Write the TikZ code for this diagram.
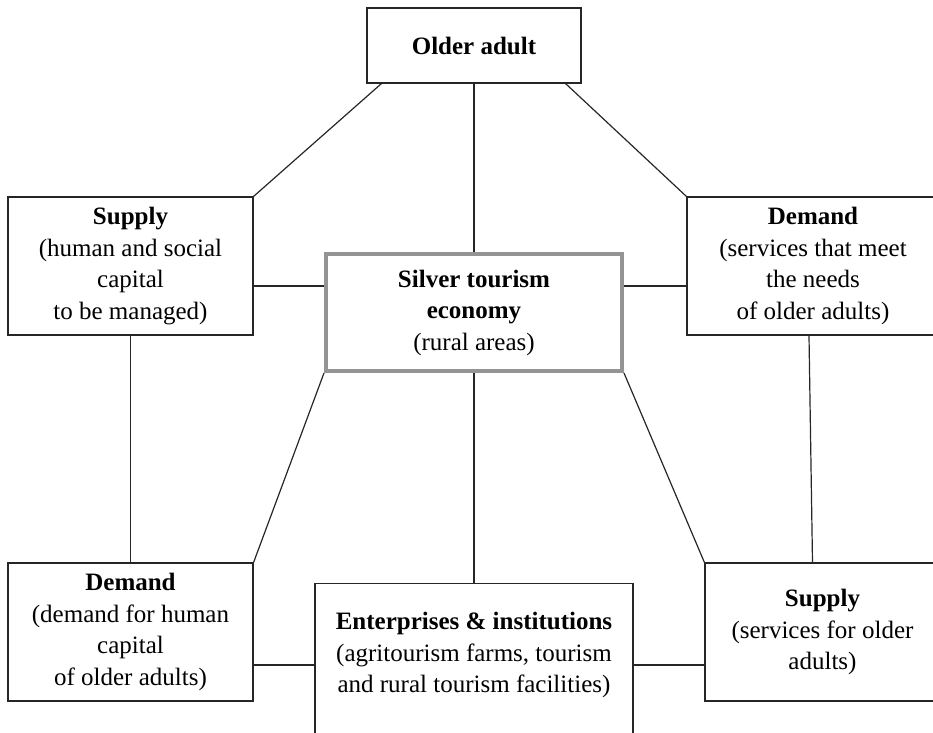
\documentclass[tikz,border=0pt]{standalone}
\usepackage{fontspec}
\setmainfont{Liberation Serif}
\usetikzlibrary{positioning}

\begin{document}
\begin{tikzpicture}[
  x=0.5pt, y=-0.5pt,
  font=\fontsize{12.5}{15.75}\selectfont,
  line width=0.6pt,
  box/.style={draw=black!85, align=center, inner sep=3pt,
              minimum height=69pt},
  hub/.style={draw=black!42, line width=2pt, align=center, inner sep=3pt,
              minimum width=148pt, minimum height=58.5pt}]
\useasboundingbox (0,0) rectangle (933,733);
\clip (0,0) rectangle (933,733);
\coordinate (rowU) at (0,286);
\coordinate (rowD) at (0,665);
\node[box, minimum width=107pt, minimum height=37.5pt] (older) at (474,45.5) {\textbf{Older adult}};
\node[hub] (econ) at (474,312.5) {\textbf{Silver tourism}\\\textbf{economy}\\(rural areas)};
\node[box, minimum width=122.5pt] (supA) at (130.5,266) {\textbf{Supply}\\(human and social\\capital\\to be managed)};
\node[box, minimum width=126pt] (demA) at (813,266) {\textbf{Demand}\\(services that meet\\the needs\\of older adults)};
\node[box, minimum width=122.5pt] (demB) at (130.5,632) {\textbf{Demand}\\(demand for human\\capital\\of older adults)};
\node[box, minimum width=117.5pt] (supB) at (822.5,632) {\textbf{Supply}\\(services for older\\adults)};
\node[box, minimum width=159pt, anchor=north, inner ysep=14.5pt, text depth=80pt] (firms) at (474,583)
  {\textbf{Enterprises \& institutions}\\(agritourism farms, tourism\\and rural tourism facilities)};
\path[draw=black!85]
  (older) edge (econ)
  (econ)  edge (firms)
  (supA)  edge (demB)
  (econ.south west) edge (demB.north east)
  (econ.south east) edge (supB.north west)
  ([xshift=7.5pt]older.south west) edge (supA.north east)
  ([xshift=-8pt]older.south east)  edge (demA.north west)
  ([xshift=-2pt]demA.south) edge ([xshift=-5pt]supB.north)
  (supA.east |- rowU)  edge (econ.west |- rowU)
  (econ.east |- rowU)  edge (demA.west |- rowU)
  (demB.east |- rowD)  edge (firms.west |- rowD)
  (firms.east |- rowD) edge (supB.west |- rowD);
\end{tikzpicture}
\end{document}
